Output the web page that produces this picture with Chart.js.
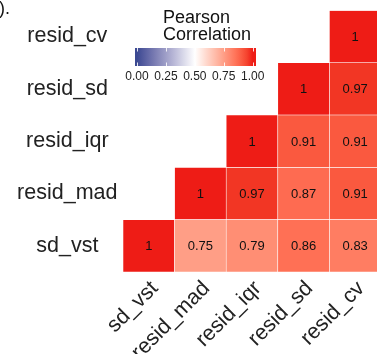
<!DOCTYPE html>
<html>
<head>
<meta charset="utf-8">
<script src="https://cdn.jsdelivr.net/npm/chart.js@4"></script>
<style>
  html, body { margin: 0; padding: 0; background: #fff; overflow: hidden; }
  #corr { display: block; }
</style>
</head>
<body>
<canvas id="corr" width="390" height="354"></canvas>
<script>
const vars = ["sd_vst", "resid_mad", "resid_iqr", "resid_sd", "resid_cv"];
// one row per y variable, columns in the order of vars (null = lower triangle)
const sd_vst = [1, 0.75, 0.79, 0.86, 0.83];
const resid_mad = [null, 1, 0.97, 0.87, 0.91];
const resid_iqr = [null, null, 1, 0.91, 0.91];
const resid_sd = [null, null, null, 1, 0.97];
const resid_cv = [null, null, null, null, 1];
const rows = [sd_vst, resid_mad, resid_iqr, resid_sd, resid_cv];
const legendTicks = [0, 0.25, 0.5, 0.75, 1];

const LOW = "#3B4992", MID = "#FFFFFF", HIGH = "#EE1C16";
const FONT = "'Liberation Sans', Arial, Helvetica, sans-serif";

// colour scale: blue - white - red, interpolated in Lab space
function toLab(hex) {
  const c = [1, 3, 5]
    .map((i) => parseInt(hex.substr(i, 2), 16) / 255)
    .map((u) => (u <= 0.04045 ? u / 12.92 : Math.pow((u + 0.055) / 1.055, 2.4)));
  const f = (t) => (t > 0.008856 ? Math.cbrt(t) : 7.787 * t + 16 / 116);
  const x = f((0.4124 * c[0] + 0.3576 * c[1] + 0.1805 * c[2]) / 0.95047);
  const y = f(0.2126 * c[0] + 0.7152 * c[1] + 0.0722 * c[2]);
  const z = f((0.0193 * c[0] + 0.1192 * c[1] + 0.9505 * c[2]) / 1.08883);
  return [116 * y - 16, 500 * (x - y), 200 * (y - z)];
}
function fromLab(L, a, b) {
  const fy = (L + 16) / 116, fx = a / 500 + fy, fz = fy - b / 200;
  const g = (t) => (t * t * t > 0.008856 ? t * t * t : (t - 16 / 116) / 7.787);
  const x = g(fx) * 0.95047, y = g(fy), z = g(fz) * 1.08883;
  const lin = [
    3.2406 * x - 1.5372 * y - 0.4986 * z,
    -0.9689 * x + 1.8758 * y + 0.0415 * z,
    0.0557 * x - 0.204 * y + 1.057 * z,
  ];
  const s = lin.map((u) => {
    u = u <= 0.0031308 ? 12.92 * u : 1.055 * Math.pow(u, 1 / 2.4) - 0.055;
    return Math.round(Math.min(1, Math.max(0, u)) * 255);
  });
  return "rgb(" + s.join(",") + ")";
}
const labLow = toLab(LOW), labMid = toLab(MID), labHigh = toLab(HIGH);
function fill(v) {
  const end = v >= 0.5 ? labHigh : labLow;
  const t = Math.min(1, Math.abs(v - 0.5) / 0.5);
  return fromLab(
    labMid[0] + (end[0] - labMid[0]) * t,
    labMid[1] + (end[1] - labMid[1]) * t,
    labMid[2] + (end[2] - labMid[2]) * t
  );
}

// each row is a dataset of floating bars spanning one unit on the y scale
const datasets = rows.map((row, i) => ({
  data: row.map((v) => (v == null ? null : [i - 0.5, i + 0.5])),
  values: row,
  backgroundColor: row.map((v) => (v == null ? "transparent" : fill(v))),
  borderColor: "#fff",
  borderWidth: 0.6,
  borderSkipped: false,
  barPercentage: 1,
  categoryPercentage: 1,
  grouped: false,
}));

// correlation value printed in the middle of every cell
const cellLabels = {
  id: "cellLabels",
  afterDatasetsDraw(chart) {
    const ctx = chart.ctx;
    ctx.save();
    ctx.font = "13px " + FONT;
    ctx.fillStyle = "#111";
    ctx.textAlign = "center";
    ctx.textBaseline = "middle";
    chart.data.datasets.forEach((ds, i) => {
      chart.getDatasetMeta(i).data.forEach((el, j) => {
        const v = ds.values[j];
        if (v == null) return;
        const p = el.getCenterPoint();
        ctx.fillText(String(v), p.x, p.y + 1);
      });
    });
    ctx.restore();
  },
};

// colour bar legend + panel tag
const colorLegend = {
  id: "colorLegend",
  afterDraw(chart) {
    const ctx = chart.ctx;
    const x0 = 137, x1 = 252.7, top = 48, h = 18;
    ctx.save();
    ctx.fillStyle = "#111";
    ctx.font = "18px " + FONT;
    ctx.textAlign = "left";
    ctx.textBaseline = "alphabetic";
    ctx.fillText("Pearson", 163, 23);
    ctx.fillText("Correlation", 163, 39.5);

    ctx.textAlign = "right";
    ctx.fillText("b).", 10, 14);

    const grad = ctx.createLinearGradient(x0, 0, x1, 0);
    for (let k = 0; k <= 20; k++) grad.addColorStop(k / 20, fill(k / 20));
    ctx.fillStyle = grad;
    ctx.fillRect(135, top, 121, h);

    ctx.strokeStyle = "rgba(255,255,255,0.85)";
    ctx.lineWidth = 1;
    ctx.font = "12px " + FONT;
    ctx.fillStyle = "#222";
    ctx.textAlign = "center";
    legendTicks.forEach((t) => {
      const x = Math.round(x0 + t * (x1 - x0)) + 0.5;
      ctx.beginPath();
      ctx.moveTo(x, top);
      ctx.lineTo(x, top + 3.5);
      ctx.moveTo(x, top + h - 3.5);
      ctx.lineTo(x, top + h);
      ctx.stroke();
      ctx.fillText(t.toFixed(2), x0 + t * (x1 - x0), 79.5);
    });
    ctx.restore();
  },
};

new Chart(document.getElementById("corr"), {
  type: "bar",
  data: {
    labels: vars,
    datasets: datasets,
  },
  options: {
    responsive: false,
    animation: false,
    layout: {
      padding: { top: 9.1, right: 9, left: 0, bottom: 0 },
    },
    plugins: {
      legend: { display: false },
      tooltip: { enabled: false },
      title: { display: false },
    },
    scales: {
      x: {
        grid: { display: false },
        border: { display: false },
        afterFit: (s) => {
          s.height = 82;
        },
        ticks: {
          autoSkip: false,
          minRotation: 45,
          maxRotation: 45,
          padding: -4,
          labelOffset: 6,
          color: "#222",
          font: { family: FONT, size: 21.5 },
        },
      },
      y: {
        type: "linear",
        min: -0.5,
        max: 4.5,
        grid: { display: false },
        border: { display: false },
        afterFit: (s) => {
          s.width = 123;
        },
        afterBuildTicks: (s) => {
          s.ticks = vars.map((_, i) => ({ value: i }));
        },
        ticks: {
          crossAlign: "center",
          padding: -2.5,
          color: "#222",
          font: { family: FONT, size: 21.5 },
          callback: (v) => vars[v],
        },
      },
    },
  },
  plugins: [cellLabels, colorLegend],
});
</script>
</body>
</html>
